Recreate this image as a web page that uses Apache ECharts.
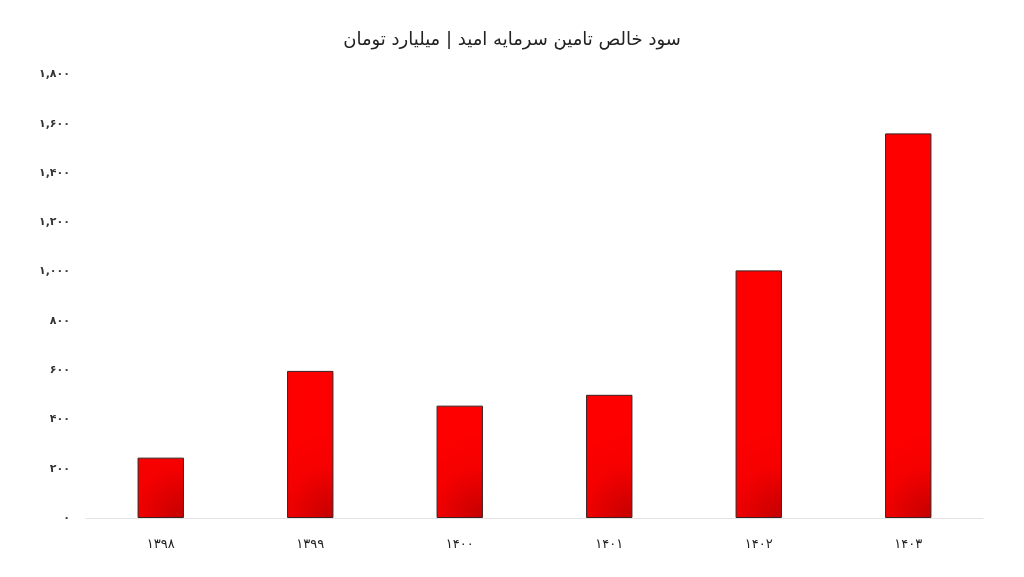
<!DOCTYPE html>
<html>
<head>
<meta charset="utf-8">
<script src="https://cdn.jsdelivr.net/npm/echarts@6/dist/echarts.min.js"></script>
<style>html,body{margin:0;padding:0;background:#fff}#c{width:1024px;height:577px}</style>
</head>
<body>
<div id="c"></div>
<script>
const titleText = 'سود خالص تامین سرمایه امید | میلیارد تومان';
const categories = ['1398', '1399', '1400', '1401', '1402', '1403'];
const values = [245, 597, 456, 500, 1005, 1561];
const yTicks = [0, 200, 400, 600, 800, 1000, 1200, 1400, 1600, 1800];

function fa(s) {
  return String(s).replace(/\d/g, d => '۰۱۲۳۴۵۶۷۸۹'[d]);
}
function faNum(v) {
  const s = String(v).replace(/\B(?=(\d{3})+(?!\d))/g, ',');
  return fa(s);
}

const chart = echarts.init(document.getElementById('c'));
chart.setOption({
  backgroundColor: '#ffffff',
  animation: false,
  title: {
    text: titleText,
    left: 'center',
    top: 26,
    textStyle: { fontFamily: 'DejaVu Sans', fontSize: 18, fontWeight: 'normal', color: '#222' }
  },
  grid: { left: 86, right: 41, top: 74.5, bottom: 59 },
  xAxis: {
    type: 'category',
    data: categories,
    axisLine: { show: true, lineStyle: { color: '#e3e3e3', width: 1 } },
    axisTick: { show: false },
    axisLabel: {
      formatter: v => fa(v),
      fontFamily: 'DejaVu Sans', fontSize: 13, color: '#222', margin: 20
    }
  },
  yAxis: {
    type: 'value',
    min: yTicks[0],
    max: yTicks[yTicks.length - 1],
    interval: 200,
    axisLine: { show: false },
    axisTick: { show: false },
    splitLine: { show: false },
    axisLabel: {
      formatter: v => faNum(v),
      fontFamily: 'DejaVu Sans', fontSize: 11, fontWeight: 'bold', color: '#333', margin: 16
    }
  },
  series: [{
    type: 'bar',
    data: values,
    barWidth: '31%',
    itemStyle: {
      color: {
        type: 'radial', x: 1, y: 1, r: 2,
        colorStops: [
          { offset: 0, color: '#c40000' },
          { offset: 0.55, color: '#f50000' },
          { offset: 1, color: '#ff0000' }
        ]
      },
      borderColor: '#3a2020',
      borderWidth: 1
    }
  }]
});
</script>
</body>
</html>
